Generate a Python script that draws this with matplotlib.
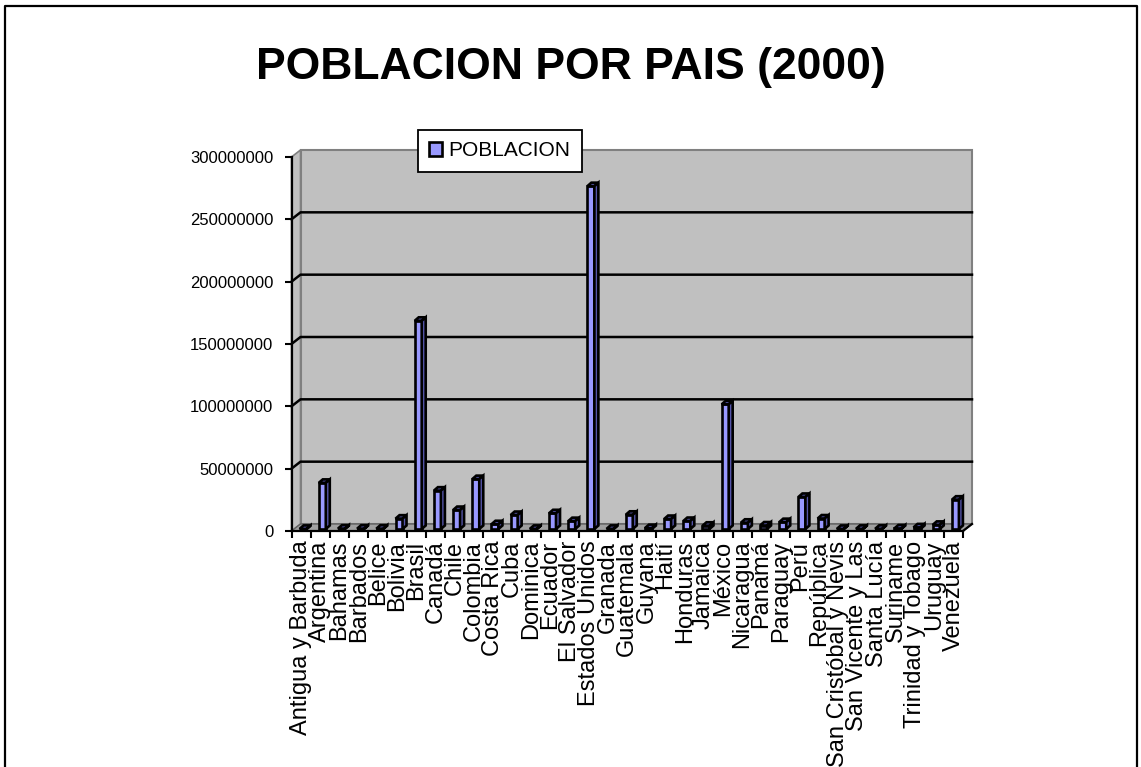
import numpy as np
import matplotlib
matplotlib.use('Agg')
import matplotlib.pyplot as plt
from matplotlib.patches import Polygon
from matplotlib.lines import Line2D

plt.rcParams['font.family'] = ['Liberation Sans', 'DejaVu Sans']

paises = [
    "Antigua y Barbuda", "Argentina", "Bahamas", "Barbados", "Belice",
    "Bolivia", "Brasil", "Canadá", "Chile", "Colombia", "Costa Rica",
    "Cuba", "Dominica", "Ecuador", "El Salvador", "Estados Unidos",
    "Granada", "Guatemala", "Guyana", "Haití", "Honduras", "Jamaica",
    "México", "Nicaragua", "Panamá", "Paraguay", "Perú", "República",
    "San Cristóbal y Nevis", "San Vicente y Las", "Santa Lucía",
    "Suriname", "Trinidad y Tobago", "Uruguay", "Venezuela",
]
poblacion = [
    70000, 37000000, 300000, 270000, 250000,
    8300000, 167000000, 30750000, 15200000, 40000000, 3800000,
    11200000, 70000, 12600000, 6300000, 275000000,
    100000, 11400000, 700000, 8000000, 6400000, 2600000,
    100000000, 5000000, 2800000, 5500000, 25700000, 8400000,
    40000, 110000, 150000,
    420000, 1300000, 3300000, 23500000,
]
yticks = [0, 50000000, 100000000, 150000000, 200000000, 250000000, 300000000]

W, H = 1141, 767
fig = plt.figure(figsize=(W / 100, H / 100), dpi=100)

# front plane of the 3D box in pixels
left_px, right_px, bottom_px, top_px = 291.5, 963, 531, 157
ax = fig.add_axes([left_px / W, 1 - bottom_px / H,
                   (right_px - left_px) / W, (bottom_px - top_px) / H])
n = len(paises)
ymax = yticks[-1]
ax.set_xlim(-0.5, n - 0.5)
ax.set_ylim(0, ymax)

# pixel -> data scale
sx = n / (right_px - left_px)
sy = ymax / (bottom_px - top_px)
dx, dy = 9 * sx, 7 * sy  # depth of the box
x0, x1 = -0.5, n - 0.5
wall = '#c0c0c0'

# back wall, side wall, floor
ax.add_patch(Polygon([(x0 + dx, dy), (x1 + dx, dy), (x1 + dx, ymax + dy), (x0 + dx, ymax + dy)],
                     closed=True, fc=wall, ec='#808080', lw=1.5, clip_on=False, zorder=1))
ax.add_patch(Polygon([(x0, 0), (x0 + dx, dy), (x0 + dx, ymax + dy), (x0, ymax)],
                     closed=True, fc=wall, ec='#808080', lw=1.2, clip_on=False, zorder=1))
for v in yticks[1:-1]:
    ax.plot([x0, x0 + dx, x1 + dx], [v, v + dy, v + dy], color='black', lw=1.8,
            clip_on=False, zorder=2)
ax.add_patch(Polygon([(x0, 0), (x1, 0), (x1 + dx, dy), (x0 + dx, dy)],
                     closed=True, fc='#a0a0a0', ec='#606060', lw=1.0, clip_on=False, zorder=2))
ax.plot([x1, x1 + dx], [0, dy], color='black', lw=1.6, clip_on=False, zorder=6)

# bars
bw = 7 * sx
ox, oy = 2 * sx - bw / 2, 2 * sy
bdx, bdy = 4 * sx, 3.5 * sy
xs = np.arange(n)
ax.bar(xs + ox + bw / 2, poblacion, width=bw, bottom=oy, color='#9999ff',
       edgecolor='black', lw=1.9, label='POBLACION', zorder=4, clip_on=False)
for xi, v in zip(xs, poblacion):
    a = xi + ox
    b = a + bw
    t = v + oy
    ax.add_patch(Polygon([(a, t), (a + bdx, t + bdy), (b + bdx, t + bdy), (b, t)],
                         closed=True, fc='#5555aa', ec='black', lw=1.9, zorder=4, clip_on=False))
    ax.add_patch(Polygon([(b, oy), (b + bdx, oy + bdy), (b + bdx, t + bdy), (b, t)],
                         closed=True, fc='#5555aa', ec='black', lw=1.9, zorder=4, clip_on=False))

# axes styling
ax.set_facecolor('none')
for s in ['top', 'right']:
    ax.spines[s].set_visible(False)
for s in ['left', 'bottom']:
    ax.spines[s].set_linewidth(1.6)
    ax.spines[s].set_zorder(7)
ax.set_yticks(yticks)
ax.set_yticklabels([str(v) for v in yticks], fontsize=12)
ax.tick_params(axis='y', direction='out', length=5, width=1.5, pad=8)
ax.set_xticks(np.arange(n + 1) - 0.5)
ax.set_xticklabels([])
ax.tick_params(axis='x', which='major', direction='out', length=5, width=1.5)
ax.set_xticks(xs, minor=True)
ax.set_xticklabels(paises, minor=True, rotation=90, fontsize=17)
ax.tick_params(axis='x', which='minor', length=0, pad=7)

leg = fig.legend(loc='upper left', bbox_to_anchor=(418 / W, 1 - 130 / H),
                 fontsize=15, frameon=True, fancybox=False, framealpha=1,
                 borderaxespad=0, handlelength=0.6, handleheight=0.6,
                 handletextpad=0.3, borderpad=0.55)
leg.get_frame().set_edgecolor('black')
leg.get_frame().set_facecolor('white')
leg.get_frame().set_linewidth(1.3)

fig.text(0.5, 1 - 68 / H, "POBLACION POR PAIS (2000)", ha='center', va='center',
         fontsize=32, fontweight='bold')

# outer chart border
bl, bt, br = 5 / W, 1 - 6 / H, 1137 / W
fig.add_artist(Line2D([bl, bl, br, br], [0, bt, bt, 0], transform=fig.transFigure,
                      color='black', lw=1.6))

fig.savefig('out.png', dpi=100)
